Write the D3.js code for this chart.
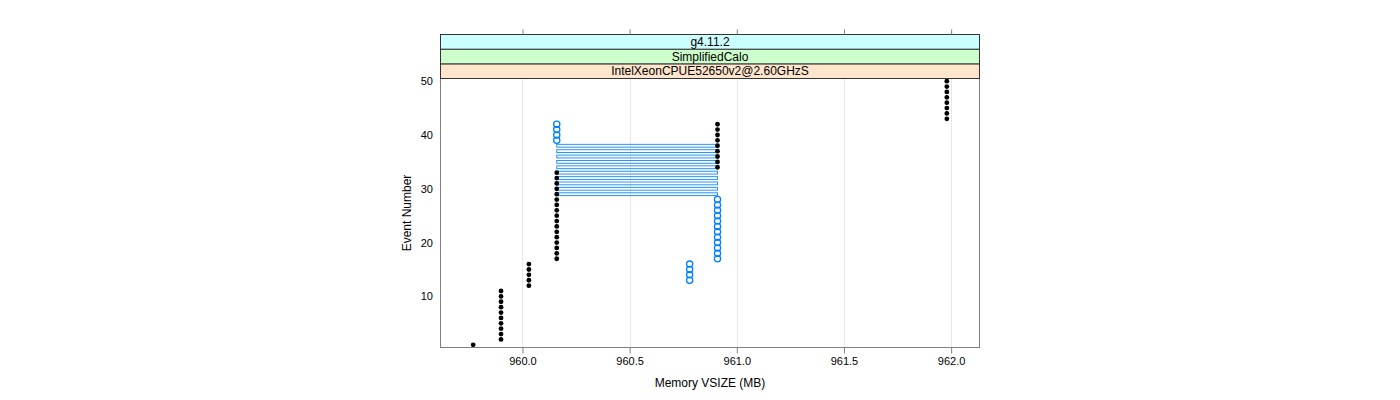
<!DOCTYPE html>
<html>
<head>
<meta charset="utf-8">
<script src="https://cdn.jsdelivr.net/npm/d3@7"></script>
<style>
  html, body { margin: 0; padding: 0; background: #fff; }
  svg { display: block; }
  text { font-family: "Liberation Sans", Arial, Helvetica, sans-serif; }
</style>
</head>
<body>
<svg id="chart" width="1400" height="400"></svg>
<script>
// ---- data ----
const stripLabels = ["IntelXeonCPUE52650v2@2.60GHzS", "SimplifiedCalo", "g4.11.2"];
const xTicks = [960.0, 960.5, 961.0, 961.5, 962.0];
const yTicks = [10, 20, 30, 40, 50];

// black filled points: event number -> memory VSIZE (MB)
const blackEvents = [1,2,3,4,5,6,7,8,9,10,11,12,13,14,15,16,17,18,19,20,21,22,23,24,25,26,27,28,29,30,31,32,33,34,35,36,37,38,39,40,41,42,43,44,45,46,47,48,49,50];
const blackVsize  = [959.77,
  959.90,959.90,959.90,959.90,959.90,959.90,959.90,959.90,959.90,959.90,
  960.03,960.03,960.03,960.03,960.03,
  960.16,960.16,960.16,960.16,960.16,960.16,960.16,960.16,960.16,960.16,960.16,960.16,960.16,960.16,960.16,960.16,960.16,
  960.91,960.91,960.91,960.91,960.91,960.91,960.91,960.91,960.91,
  961.98,961.98,961.98,961.98,961.98,961.98,961.98,961.98];

// blue open points
const blueEvents = [13,14,15,16,17,18,19,20,21,22,23,24,25,26,27,28,39,40,41,42];
const blueVsize  = [960.78,960.78,960.78,960.78,
  960.91,960.91,960.91,960.91,960.91,960.91,960.91,960.91,960.91,960.91,960.91,960.91,
  960.16,960.16,960.16,960.16];

// blue ranges (events where value spans two levels)
const rangeEvents = [29,30,31,32,33,34,35,36,37,38];
const rangeLow    = [960.16,960.16,960.16,960.16,960.16,960.16,960.16,960.16,960.16,960.16];
const rangeHigh   = [960.91,960.91,960.91,960.91,960.91,960.91,960.91,960.91,960.91,960.91];

// ---- layout ----
const svg = d3.select("#chart");
const L = 440, R = 980, T = 78.5, B = 347.5;
const stripTop = 34.5;
const stripH = (T - stripTop) / stripLabels.length;
const blue = "#0080ff";

const allX = blackVsize.concat(blueVsize, rangeLow, rangeHigh);
const xmin = d3.min(allX), xmax = d3.max(allX);
const ext = (xmax - xmin) * 0.07;
const x = d3.scaleLinear().domain([xmin - ext, xmax + ext]).range([L, R]);
const y = d3.scaleLinear().domain([0.5, 50.5]).range([B, T]);

// grid
svg.append("g").selectAll("line").data(xTicks).join("line")
  .attr("x1", d => Math.round(x(d)) + 0.5).attr("x2", d => Math.round(x(d)) + 0.5)
  .attr("y1", T).attr("y2", B)
  .attr("stroke", "#e8e8e8").attr("stroke-width", 1);

// blue range rectangles
const rg = svg.append("g");
rangeEvents.forEach((e, i) => {
  const x0 = x(rangeLow[i]), x1 = x(rangeHigh[i]);
  rg.append("rect")
    .attr("x", x0).attr("y", y(e) - 1.4)
    .attr("width", x1 - x0).attr("height", 2.8)
    .attr("fill", "none").attr("stroke", blue).attr("stroke-width", 1)
    .attr("stroke-opacity", 0.85);
});

// blue open circles
svg.append("g").selectAll("circle").data(blueEvents).join("circle")
  .attr("cx", (d, i) => x(blueVsize[i])).attr("cy", d => y(d))
  .attr("r", 3.1).attr("fill", "none").attr("stroke", blue).attr("stroke-width", 1.3);

// black filled points
svg.append("g").selectAll("circle").data(blackEvents).join("circle")
  .attr("cx", (d, i) => x(blackVsize[i])).attr("cy", d => y(d))
  .attr("r", 2.4).attr("fill", "#000");

// panel border
svg.append("rect").attr("x", L + 0.5).attr("y", T).attr("width", R - L - 1).attr("height", B - T)
  .attr("fill", "none").attr("stroke", "#808080").attr("stroke-width", 1);

// strips (level 1 closest to panel)
const stripCols = ["#ffe5cc", "#ccffcc", "#ccffff"];
stripLabels.forEach((lab, i) => {
  const sy = T - (i + 1) * stripH;
  svg.append("rect").attr("x", L + 0.5).attr("y", sy).attr("width", R - L - 1).attr("height", stripH)
    .attr("fill", stripCols[i]).attr("stroke", "#333").attr("stroke-width", 1);
  svg.append("text").attr("x", (L + R) / 2).attr("y", sy + stripH / 2)
    .attr("text-anchor", "middle").attr("dominant-baseline", "central")
    .attr("font-size", 12).attr("fill", "#000").text(lab);
});

// bottom axis
const xAxisB = d3.axisBottom(x).tickValues(xTicks).tickFormat(d3.format(".1f")).tickSize(6).tickPadding(4);
const gB = svg.append("g").attr("transform", `translate(0,${B})`).call(xAxisB);
gB.select(".domain").remove();
gB.selectAll(".tick line").attr("stroke", "#808080");
gB.selectAll("text").attr("font-size", 11).attr("fill", "#000")
  .style("font-family", '"Liberation Sans", Arial, sans-serif');

// top axis ticks (no labels)
const xAxisT = d3.axisTop(x).tickValues(xTicks).tickFormat("").tickSize(5);
const gT = svg.append("g").attr("transform", `translate(0,${stripTop})`).call(xAxisT);
gT.select(".domain").remove();
gT.selectAll(".tick line").attr("stroke", "#808080");

// left axis labels (no ticks)
const yAxis = d3.axisLeft(y).tickValues(yTicks).tickSize(0).tickPadding(7);
const gL = svg.append("g").attr("transform", `translate(${L},0)`).call(yAxis);
gL.select(".domain").remove();
gL.selectAll("text").attr("font-size", 11).attr("fill", "#000")
  .style("font-family", '"Liberation Sans", Arial, sans-serif');

// axis titles
svg.append("text").attr("x", (L + R) / 2).attr("y", 383)
  .attr("text-anchor", "middle").attr("dominant-baseline", "central")
  .attr("font-size", 12).text("Memory VSIZE (MB)");
svg.append("text").attr("transform", `translate(407,${(T + B) / 2}) rotate(-90)`)
  .attr("text-anchor", "middle").attr("dominant-baseline", "central")
  .attr("font-size", 12).text("Event Number");
</script>
</body>
</html>
